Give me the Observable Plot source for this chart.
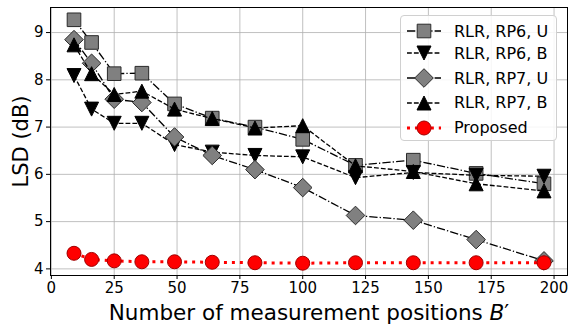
<!DOCTYPE html>
<html>
<head>
<meta charset="utf-8">
<script src="https://cdn.jsdelivr.net/npm/d3@7"></script>
<script src="https://cdn.jsdelivr.net/npm/@observablehq/plot@0.6"></script>
<style>
  body { margin: 0; background: #fff; font-family: "DejaVu Sans", sans-serif; }
  #wrap { position: relative; width: 569px; height: 325px; overflow: hidden; }
  #legend { position: absolute; left: 400px; top: 15px; width: 157px; height: 126px;
    border: 1px solid #d0d0d0; border-radius: 4px; background: rgba(255,255,255,0.85); box-sizing: border-box; }
  .row { position: absolute; left: 0; height: 24px; display: flex; align-items: center; }
  .row span { font-size: 16px; color: #000; margin-left: 13px; white-space: nowrap; }
</style>
</head>
<body>
<div id="wrap"><div id="chart"></div><div id="legend"></div></div>
<script>
// ---- data ----
const positions = [9, 16, 25, 36, 49, 64, 81, 100, 121, 144, 169, 196];
const rlrRP6U = [9.27, 8.79, 8.13, 8.14, 7.49, 7.19, 7.00, 6.74, 6.19, 6.30, 6.02, 5.80];
const rlrRP6B = [8.09, 7.38, 7.08, 7.08, 6.63, 6.47, 6.40, 6.37, 5.93, 6.04, 5.98, 5.96];
const rlrRP7U = [8.85, 8.35, 7.59, 7.52, 6.79, 6.40, 6.10, 5.72, 5.13, 5.03, 4.62, 4.17];
const rlrRP7B = [8.74, 8.13, 7.69, 7.76, 7.38, 7.18, 6.98, 7.03, 6.18, 6.06, 5.80, 5.65];
const proposed = [4.33, 4.20, 4.17, 4.15, 4.15, 4.14, 4.13, 4.12, 4.13, 4.13, 4.13, 4.13];
const seriesNames = ["RLR, RP6, U", "RLR, RP6, B", "RLR, RP7, U", "RLR, RP7, B", "Proposed"];
const seriesValues = [rlrRP6U, rlrRP6B, rlrRP7U, rlrRP7B, proposed];
const xTicks = [0, 25, 50, 75, 100, 125, 150, 175, 200];
const yTicks = [4, 5, 6, 7, 8, 9];

// ---- symbols (r = half-size) ----
const rad = s => Math.sqrt(s / Math.PI);
const symSquare = { draw(c, s) { const r = rad(s); c.rect(-r, -r, 2 * r, 2 * r); } };
const symDiamond = { draw(c, s) { const r = rad(s); c.moveTo(0, -r); c.lineTo(r, 0); c.lineTo(0, r); c.lineTo(-r, 0); c.closePath(); } };
const symTriUp = { draw(c, s) { const r = rad(s); c.moveTo(0, -r); c.lineTo(r, r); c.lineTo(-r, r); c.closePath(); } };
const symTriDown = { draw(c, s) { const r = rad(s); c.moveTo(0, r); c.lineTo(r, -r); c.lineTo(-r, -r); c.closePath(); } };
const symCircle = { draw(c, s) { const r = rad(s); c.moveTo(r, 0); c.arc(0, 0, r, 0, 2 * Math.PI); } };

const styles = [
  { sym: symSquare, r: 6.8, fill: "#808080", stroke: "#2a2a2a", line: "#000", dash: "8.3,2.1,1.3,2.1", lw: 1.3 },
  { sym: symTriDown, r: 7, fill: "#000", stroke: "#000", line: "#000", dash: "4.8,2.1", lw: 1.3 },
  { sym: symDiamond, r: 9.3, fill: "#808080", stroke: "#2a2a2a", line: "#000", dash: "8.3,2.1,1.3,2.1", lw: 1.3 },
  { sym: symTriUp, r: 7, fill: "#000", stroke: "#000", line: "#000", dash: "4.8,2.1", lw: 1.3 },
  { sym: symCircle, r: 7, fill: "#ff0000", stroke: "#a00000", line: "#ff0000", dash: "3,4.95", lw: 3 }
];

const tables = seriesValues.map((vals, i) => positions.map((p, j) => ({ x: p, y: vals[j], s: seriesNames[i] })));

const marks = [
  Plot.gridX(xTicks, { stroke: "#b0b0b0", strokeOpacity: 1, strokeWidth: 0.8 }),
  Plot.gridY(yTicks, { stroke: "#b0b0b0", strokeOpacity: 1, strokeWidth: 0.8 }),
  Plot.axisX({ ticks: xTicks, tickFormat: d => String(d), tickSize: 4, tickPadding: 3, fontSize: 15, label: "Number of measurement positions B′",
    labelAnchor: "center", labelArrow: "none", labelOffset: 44 }),
  Plot.axisY({ ticks: yTicks, tickFormat: d => String(d), tickSize: 4, tickPadding: 3, fontSize: 15, label: "LSD (dB)",
    labelAnchor: "center", labelArrow: "none", labelOffset: 37 })
];
tables.forEach((t, i) => {
  const st = styles[i];
  marks.push(Plot.line(t, { x: "x", y: "y", stroke: st.line, strokeWidth: st.lw, strokeDasharray: st.dash, strokeLinecap: "butt" }));
  marks.push(Plot.dot(t, { x: "x", y: "y", symbol: st.sym, r: st.r, fill: st.fill, stroke: st.stroke, strokeWidth: 1 }));
});
marks.push(Plot.frame({ stroke: "#000", strokeWidth: 1 }));

const chart = Plot.plot({
  width: 569, height: 325,
  marginLeft: 50, marginRight: 2, marginTop: 7, marginBottom: 50,
  x: { domain: [-0.35, 205.35] },
  y: { domain: [3.86, 9.53] },
  style: { fontFamily: "DejaVu Sans, sans-serif", color: "#000", background: "#fff" },
  marks
});
document.getElementById("chart").appendChild(chart);

// enlarge axis labels, italic B
d3.select(chart).selectAll("text").each(function () {
  const t = this.textContent;
  if (t === "LSD (dB)") { d3.select(this).style("font-size", "21px"); }
  if (t.startsWith("Number of")) {
    const sel = d3.select(this).style("font-size", "21.5px");
    sel.text(null);
    sel.append("tspan").text("Number of measurement positions ");
    sel.append("tspan").style("font-style", "italic").text("B");
    sel.append("tspan").text("′");
  }
});

// ---- legend ----
const legend = d3.select("#legend");
const rowTops = [3, 25.3, 50.3, 74.7, 99.7];
seriesNames.forEach((name, i) => {
  const st = styles[i];
  const row = legend.append("div").attr("class", "row").style("top", rowTops[i] + "px").style("left", "6px");
  const svg = row.append("svg").attr("width", 34).attr("height", 24);
  svg.append("line").attr("x1", 0).attr("x2", 34).attr("y1", 12).attr("y2", 12)
    .attr("stroke", st.line).attr("stroke-width", st.lw).attr("stroke-dasharray", st.dash);
  const path = d3.path();
  st.sym.draw(path, st.r * st.r * Math.PI);
  svg.append("path").attr("d", path.toString()).attr("transform", "translate(17,12)")
    .attr("fill", st.fill).attr("stroke", st.stroke).attr("stroke-width", 1);
  row.append("span").text(name);
});
</script>
</body>
</html>
